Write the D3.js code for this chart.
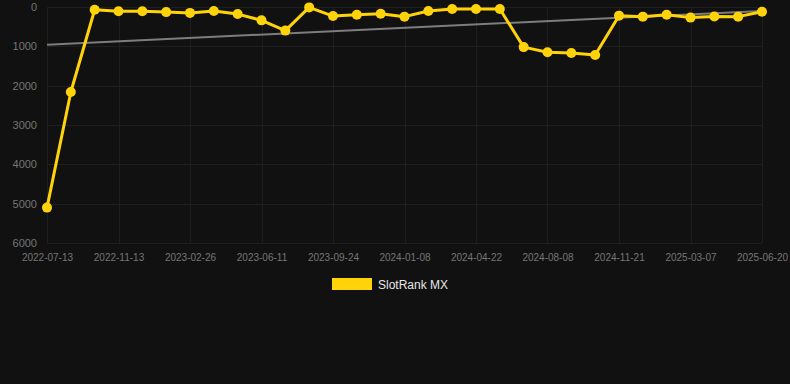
<!DOCTYPE html>
<html>
<head>
<meta charset="utf-8">
<title>SlotRank MX</title>
<script src="https://cdn.jsdelivr.net/npm/d3@7"></script>
<style>
  body { margin: 0; background: #111111; }
  svg { display: block; font-family: "Liberation Sans", Arial, sans-serif; }
  .grid line { stroke: #1e1e1e; stroke-width: 1; shape-rendering: crispEdges; }
  .axis text { fill: #767676; }
</style>
</head>
<body>
<div id="chart"></div>
<script>
// tick labels for every 3rd point
var tickLabels = ["2022-07-13", "2022-11-13", "2023-02-26", "2023-06-11", "2023-09-24",
  "2024-01-08", "2024-04-22", "2024-08-08", "2024-11-21", "2025-03-07", "2025-06-20"];
// rank values (lower is better)
var rankValues = [5100, 2160, 70, 110, 110, 130, 150, 100, 180, 340, 600, 10, 230, 195, 170,
  245, 100, 50, 50, 50, 1020, 1150, 1170, 1220, 220, 245, 195, 270, 240, 245, 120];
var trendValues = [960, 100];
var yTicks = [0, 1000, 2000, 3000, 4000, 5000, 6000];
var seriesName = "SlotRank MX";

var W = 790, H = 384;
var margin = {top: 7, right: 28, bottom: 141, left: 47};
var width = W - margin.left - margin.right,
    height = H - margin.top - margin.bottom;

var svg = d3.select("#chart").append("svg")
    .attr("width", W).attr("height", H);
svg.append("rect").attr("width", W).attr("height", H).attr("fill", "#111111");

var g = svg.append("g").attr("transform", "translate(" + margin.left + "," + margin.top + ")");

var x = d3.scaleLinear().domain([0, rankValues.length - 1]).range([0, width]);
var y = d3.scaleLinear().domain([0, 6000]).range([0, height]);

var tickIdx = tickLabels.map(function(d, i) { return i * 3; });

// grid
var grid = g.append("g").attr("class", "grid");
grid.selectAll("line.v").data(tickIdx).enter().append("line")
    .attr("x1", function(d) { return Math.round(x(d)) + 0.5; })
    .attr("x2", function(d) { return Math.round(x(d)) + 0.5; })
    .attr("y1", 0).attr("y2", height);
grid.selectAll("line.h").data(yTicks).enter().append("line")
    .attr("x1", 0).attr("x2", width)
    .attr("y1", function(d) { return Math.round(y(d)) + 0.5; })
    .attr("y2", function(d) { return Math.round(y(d)) + 0.5; });

// y axis
var yAxis = g.append("g").attr("class", "axis")
    .call(d3.axisLeft(y).tickValues(yTicks).tickSize(0).tickPadding(10).tickFormat(d3.format("d")));
yAxis.select(".domain").remove();
yAxis.selectAll("text").style("font-size", "11px");

// x axis
var xAxis = g.append("g").attr("class", "axis")
    .attr("transform", "translate(0," + height + ")")
    .call(d3.axisBottom(x).tickValues(tickIdx).tickSize(0).tickPadding(11)
      .tickFormat(function(d) { return tickLabels[d / 3]; }));
xAxis.select(".domain").remove();
xAxis.selectAll("text").style("font-size", "10px");

// trend line
g.append("line")
    .attr("x1", x(0)).attr("y1", y(trendValues[0]))
    .attr("x2", x(rankValues.length - 1)).attr("y2", y(trendValues[1]))
    .attr("stroke", "#7d7d7d").attr("stroke-width", 2);

// series line
g.append("path")
    .datum(rankValues)
    .attr("fill", "none")
    .attr("stroke", "#ffd30a")
    .attr("stroke-width", 3)
    .attr("stroke-linejoin", "round")
    .attr("d", d3.line()
      .x(function(d, i) { return x(i); })
      .y(function(d) { return y(d); }));

g.selectAll("circle.pt").data(rankValues).enter().append("circle")
    .attr("class", "pt")
    .attr("cx", function(d, i) { return x(i); })
    .attr("cy", function(d) { return y(d); })
    .attr("r", 5)
    .attr("fill", "#ffd30a");

// legend
var legend = svg.append("g").attr("transform", "translate(332,278)");
legend.append("rect").attr("width", 40).attr("height", 12).attr("fill", "#ffd30a");
legend.append("text").attr("x", 46).attr("y", 10.5)
    .attr("fill", "#e6e6e6").style("font-size", "12px").text(seriesName);
</script>
</body>
</html>
